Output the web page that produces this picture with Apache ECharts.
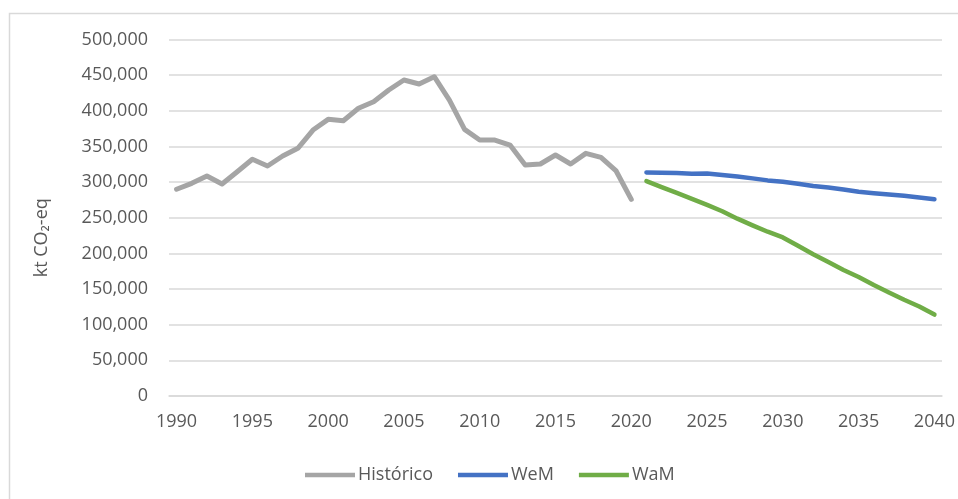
<!DOCTYPE html>
<html>
<head>
<meta charset="utf-8">
<script src="https://cdn.jsdelivr.net/npm/echarts@6/dist/echarts.min.js"></script>
<style>
  html, body { margin: 0; padding: 0; background: #fff; }
  #chart { width: 958px; height: 499px; }
</style>
</head>
<body>
<div id="chart"></div>
<script>
// years on the category axis
var years = [];
for (var y = 1990; y <= 2040; y++) years.push(String(y));

// kt CO2-eq
var historico = [290000, 298300, 308500, 297300, 314600, 332000, 322600, 336600, 347400, 373000,
                 388000, 386100, 403500, 412800, 429200, 443200, 437600, 447800, 415100, 374000,
                 359000, 359000, 352000, 324000, 325400, 338000, 325400, 340300, 334700, 315600,
                 275800];
var wem = [313600, 313200, 312700, 311800, 312200, 309900, 308000, 305200, 302400, 300500,
           297600, 294400, 292500, 289700, 286400, 284500, 282600, 280700, 278400, 276000];
var wam = [301400, 292900, 284900, 276500, 268000, 259100, 248700, 239300, 230400, 222400,
           210600, 198900, 188000, 176800, 166900, 155600, 145200, 134900, 125500, 114200];

var seriesNames = ['Histórico', 'WeM', 'WaM'];
var seriesColors = ['#A5A5A5', '#4472C4', '#70AD47'];

// pad the series so they sit on the right years
function pad(before, arr, total) {
  var out = [];
  for (var i = 0; i < before; i++) out.push(null);
  out = out.concat(arr);
  while (out.length < total) out.push(null);
  return out;
}

var dataSets = [
  pad(0, historico, years.length),
  pad(31, wem, years.length),
  pad(31, wam, years.length)
];

var font = 'Open Sans';
var textColor = '#595959';

var myChart = echarts.init(document.getElementById('chart'));

var option = {
  backgroundColor: '#fff',
  animation: false,
  textStyle: { fontFamily: font },
  graphic: [{
    type: 'rect',
    shape: { x: 9.5, y: 13.5, width: 1200, height: 800 },
    style: { fill: 'none', stroke: '#d9d9d9', lineWidth: 1.5 },
    silent: true
  }],
  grid: { left: 169, right: 15, top: 39.5, bottom: 103 },
  legend: {
    left: 300,
    top: 461,
    icon: 'rect',
    itemWidth: 50,
    itemHeight: 4.5,
    itemGap: 25,
    textStyle: { fontFamily: font, fontSize: 18, color: textColor, padding: [0, 0, 0, -2] },
    data: seriesNames
  },
  xAxis: {
    type: 'category',
    data: years,
    boundaryGap: true,
    axisLine: { lineStyle: { color: '#d9d9d9', width: 1.5 } },
    axisTick: { interval: 4, length: 5, lineStyle: { color: '#d9d9d9', width: 1.5 } },
    axisLabel: { interval: 4, margin: 17, fontFamily: font, fontSize: 18, color: textColor },
    splitLine: { show: false }
  },
  yAxis: {
    type: 'value',
    min: 0,
    max: 500000,
    interval: 50000,
    name: 'kt CO₂-eq',
    nameLocation: 'middle',
    nameRotate: 90,
    nameGap: 118,
    nameTextStyle: { fontFamily: font, fontSize: 18, color: textColor, padding: [0, 40, 0, 0] },
    axisLine: { show: false },
    axisTick: { show: false },
    axisLabel: {
      margin: 21,
      fontFamily: font,
      fontSize: 18,
      color: textColor,
      formatter: function (v) { return v.toLocaleString('en-US'); }
    },
    splitLine: { lineStyle: { color: '#d9d9d9', width: 1.5 } }
  },
  series: seriesNames.map(function (name, i) {
    return {
      name: name,
      type: 'line',
      data: dataSets[i],
      symbol: 'none',
      color: seriesColors[i],
      lineStyle: { width: i === 0 ? 5 : 4.5, color: seriesColors[i], cap: 'round', join: 'round' },
      connectNulls: false
    };
  })
};

myChart.setOption(option);
</script>
</body>
</html>
